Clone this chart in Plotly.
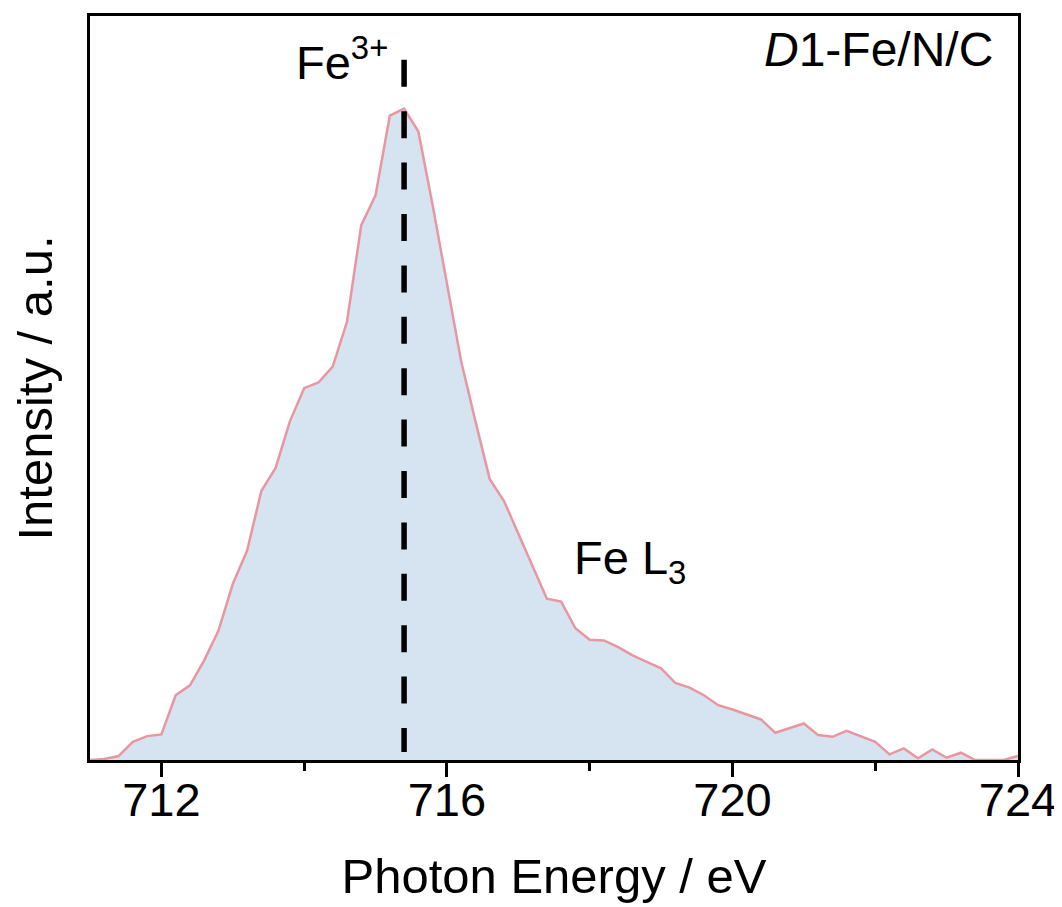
import plotly.graph_objects as go

energy = [round(711.0 + 0.2 * i, 1) for i in range(66)]
intensity = [
    0, 1, 4, 18.3, 24, 25.7, 65, 75, 100, 130,
    176.7, 210, 270, 293.3, 340, 373.3, 379, 395, 440, 537,
    567, 647, 654, 631, 557, 477, 400, 340, 282, 260,
    227, 194, 162, 159, 132.3, 120.7, 120, 113.3, 105, 98.5,
    92, 77.3, 72.7, 65, 55, 50.7, 46, 40.7, 27.3, 32,
    36.7, 25, 23.3, 29.3, 24, 18.3, 5.7, 11.7, 1.7, 10.7,
    2.3, 7.3, 0, 0, 0, 4,
]
peak_energy = 715.4
x_ticks = [712, 716, 720, 724]
x_tick_labels = ["712", "716", "720", "724"]

FONT = "Arial, Liberation Sans, sans-serif"

# page body has an 8px margin: the figure is drawn 8px right/down
OFF = 8
PL, PR, PT, PB = 90, 1018, 13, 760  # plot area in page pixels


def px(xp):
    return (xp - PL) / (PR - PL)


def py(yp):
    return (PB - yp) / (PB - PT)


fig = go.Figure()
fig.add_trace(go.Scatter(
    x=energy, y=intensity, mode="lines",
    line=dict(color="rgb(232,150,160)", width=2.5),
    fill="tozeroy", fillcolor="rgb(214,228,241)",
    showlegend=False, hoverinfo="skip",
))

fig.add_shape(type="line", xref="x", yref="y",
              x0=peak_energy, x1=peak_energy, y0=703, y1=8,
              line=dict(color="black", width=5.5, dash="27px,24.4px"))

fig.add_annotation(x=px(294), y=py(56), xref="paper", yref="paper",
                   text="Fe<sup>3+</sup>", showarrow=False, xanchor="left", yanchor="middle",
                   font=dict(family=FONT, size=47, color="black"))
fig.add_annotation(x=px(995), y=py(47), xref="paper", yref="paper",
                   text="<i>D</i>1-Fe/N/C", showarrow=False, xanchor="right", yanchor="middle",
                   font=dict(family=FONT, size=48, color="black"))
fig.add_annotation(x=px(572), y=py(560), xref="paper", yref="paper",
                   text="Fe L<sub>3</sub>", showarrow=False, xanchor="left", yanchor="middle",
                   font=dict(family=FONT, size=47, color="black"))

W, H = 1062 - OFF, 907 - OFF
fig.update_layout(
    width=W, height=H,
    margin=dict(l=PL - OFF, r=W - (PR - OFF), t=PT - OFF, b=H - (PB - OFF)),
    paper_bgcolor="white", plot_bgcolor="white",
    font=dict(family=FONT, size=47, color="black"),
    xaxis=dict(
        range=[711, 724], tickvals=x_ticks, ticktext=x_tick_labels,
        showline=True, linecolor="black", linewidth=3, mirror=True,
        ticks="outside", ticklen=14, tickwidth=3, tickcolor="black",
        ticklabelstandoff=-17,
        minor=dict(ticks="outside", ticklen=8, tickwidth=3, tickcolor="black",
                   tickvals=[714, 718, 722]),
        showgrid=False, zeroline=False,
        tickfont=dict(family=FONT, size=47),
        title=dict(text="Photon Energy / eV", font=dict(family=FONT, size=49), standoff=34),
    ),
    yaxis=dict(
        range=[0, 747], showticklabels=False, ticks="",
        showline=True, linecolor="black", linewidth=3, mirror=True,
        showgrid=False, zeroline=False,
        title=dict(text="Intensity / a.u.", font=dict(family=FONT, size=49), standoff=22),
    ),
)

fig.write_html("out.html")
